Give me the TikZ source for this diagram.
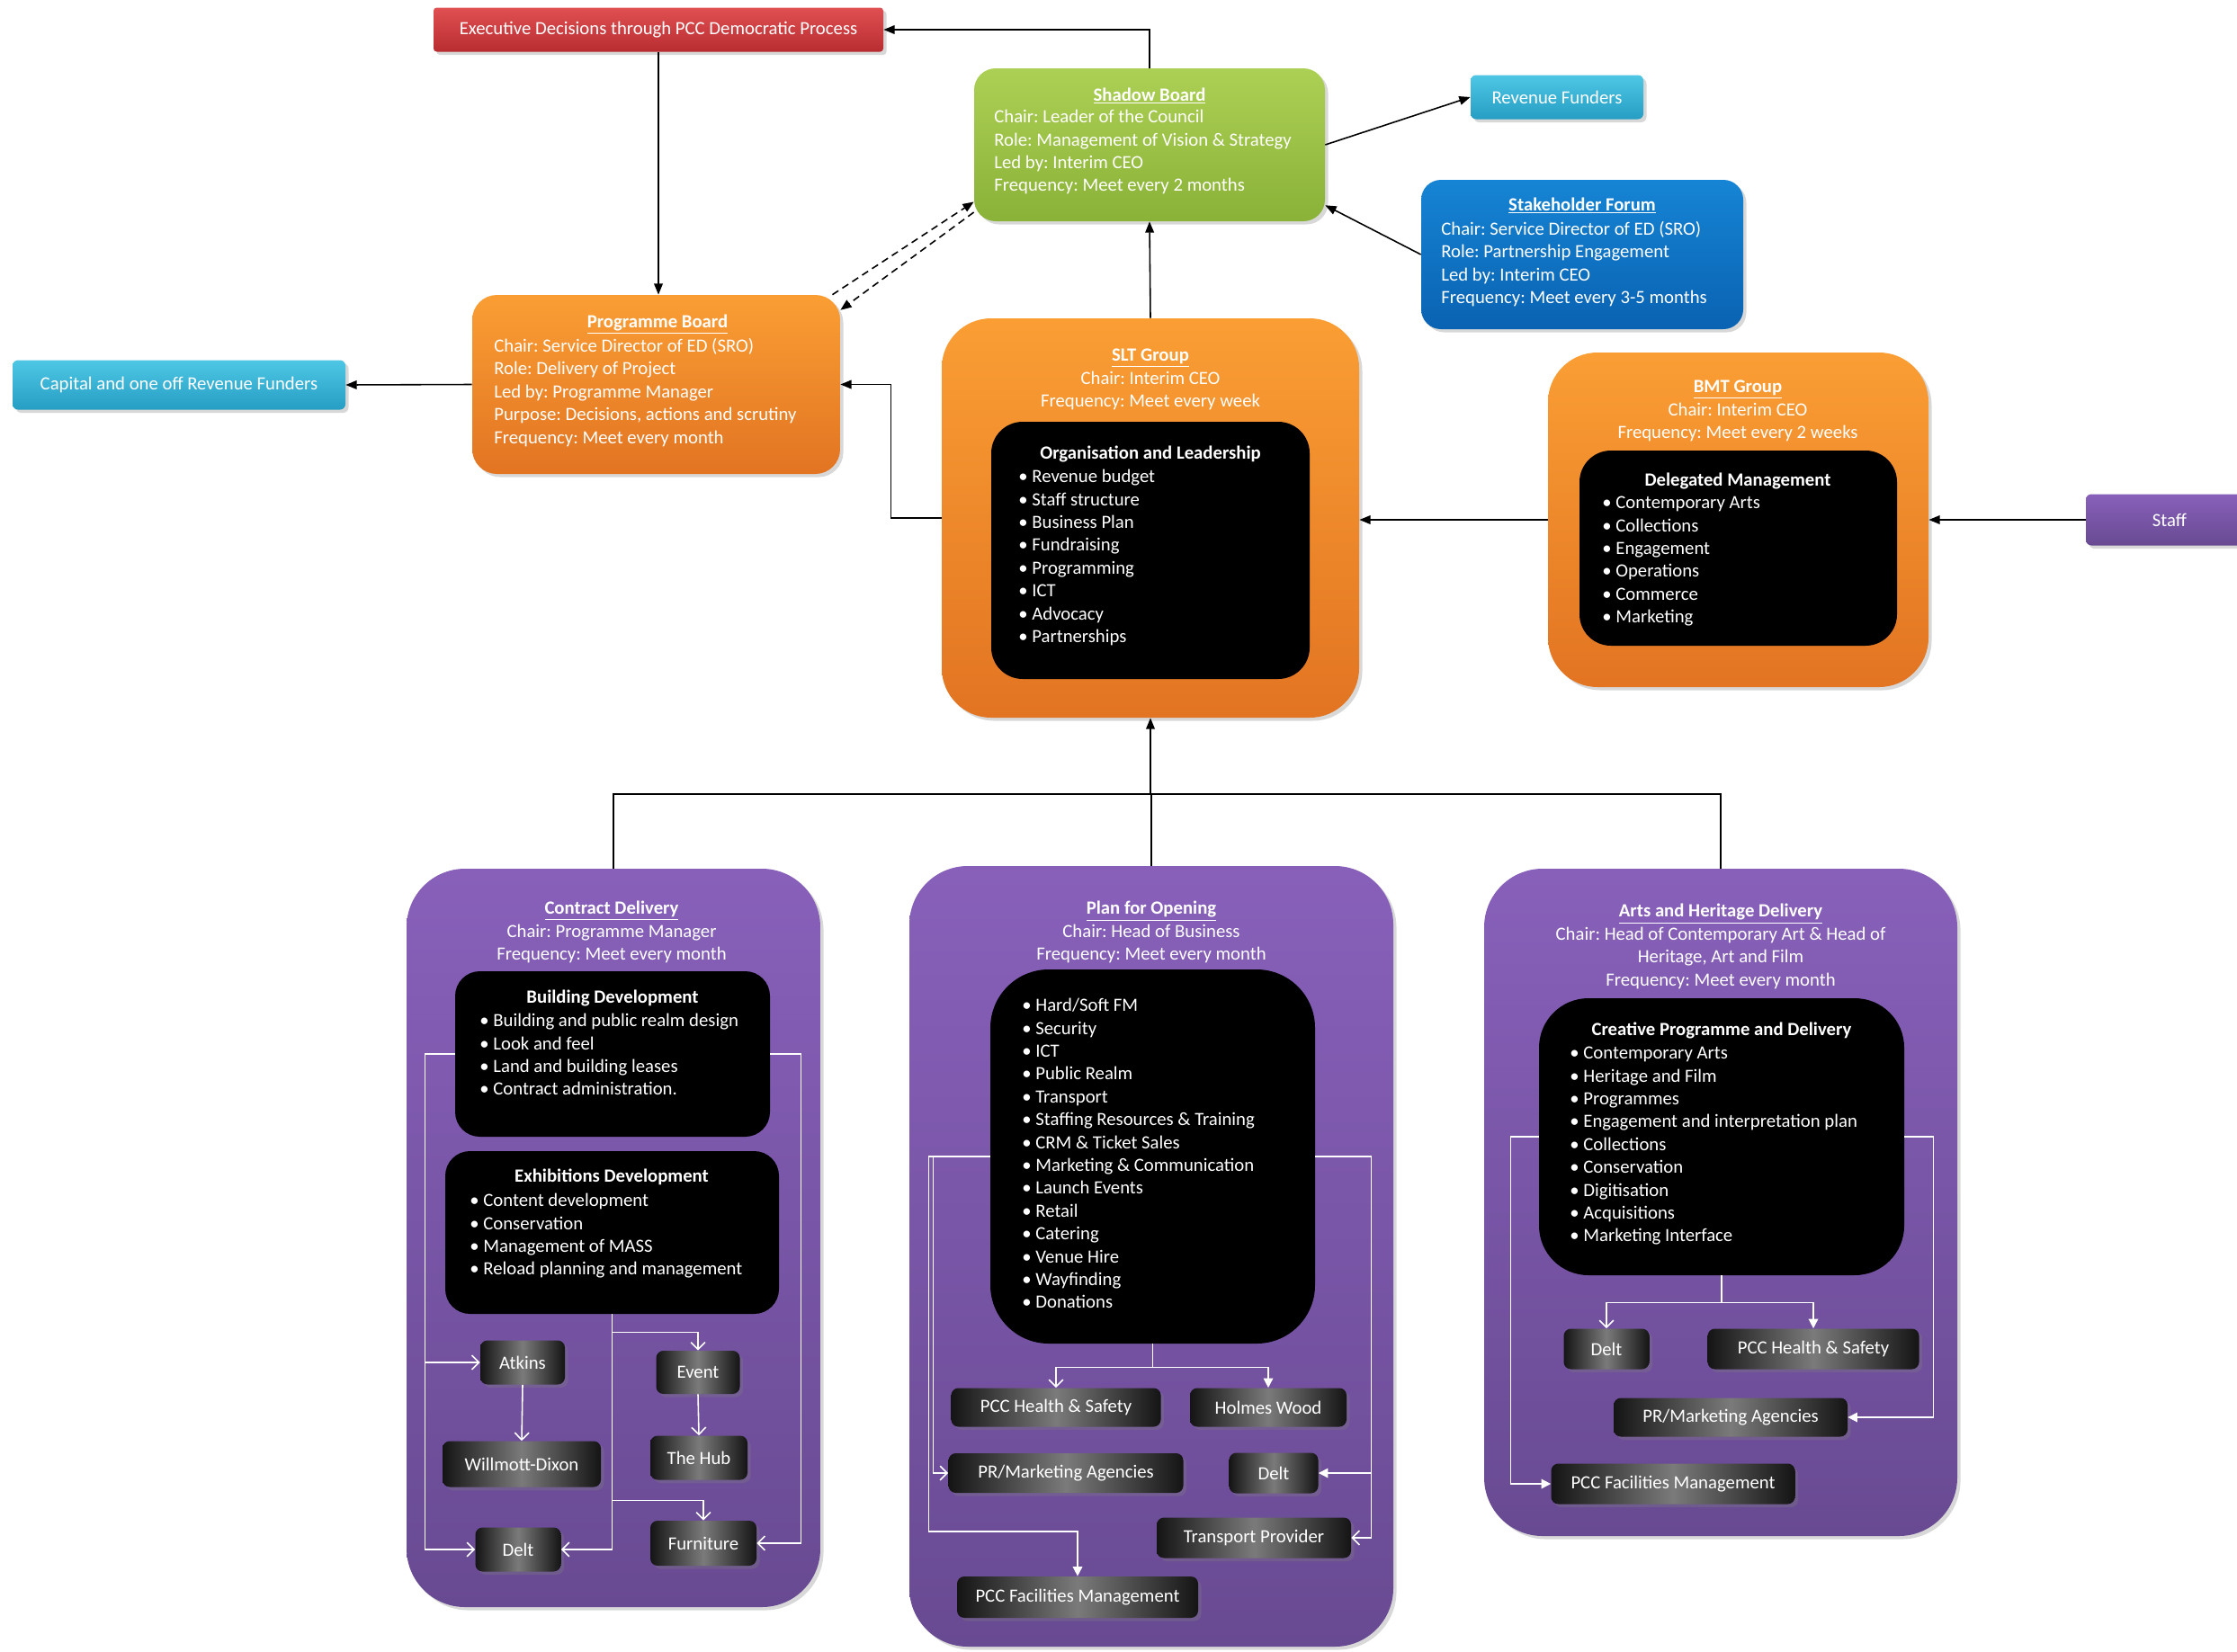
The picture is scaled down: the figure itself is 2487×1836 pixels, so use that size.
\documentclass[tikz,border=0pt]{standalone}
\usepackage{fontspec}
\setmainfont{Carlito}
\usepackage{tikz}
\usetikzlibrary{positioning,fit,calc,shadows,arrows.meta}
\frenchspacing

\definecolor{redtop}{RGB}{224,80,82}
\definecolor{redbot}{RGB}{184,44,48}
\definecolor{greentop}{RGB}{172,208,84}
\definecolor{greenbot}{RGB}{138,178,56}
\definecolor{cyantop}{RGB}{78,198,228}
\definecolor{cyanbot}{RGB}{38,158,196}
\definecolor{bluetop}{RGB}{22,132,212}
\definecolor{bluebot}{RGB}{10,98,178}
\definecolor{orngtop}{RGB}{250,158,52}
\definecolor{orngbot}{RGB}{226,116,34}
\definecolor{purptop}{RGB}{136,96,186}
\definecolor{purpbot}{RGB}{104,74,146}

\begin{document}
\begin{tikzpicture}[x=0.02cm, y=-0.02cm,
  txt/.style={text=white, inner sep=0pt, font=\fontsize{11.8}{14.45}\selectfont},
  boxsize/.style 2 args={minimum width=#1*0.02cm, minimum height=#2*0.02cm},
  panel/.style={inner sep=0pt, drop shadow={opacity=0.3, shadow xshift=2pt, shadow yshift=-2pt}},
  redbox/.style={panel, top color=redtop, bottom color=redbot, rounded corners=2pt},
  greenbox/.style={panel, top color=greentop, bottom color=greenbot, rounded corners=0.48cm},
  cyanbox/.style={panel, top color=cyantop, bottom color=cyanbot, rounded corners=0.12cm},
  bluebox/.style={panel, top color=bluetop, bottom color=bluebot, rounded corners=0.44cm},
  orangebox/.style={panel, top color=orngtop, bottom color=orngbot},
  purplebox/.style={panel, top color=purptop, bottom color=purpbot, rounded corners=1.3cm},
  staffbox/.style={panel, top color=purptop, bottom color=purpbot, rounded corners=0.12cm},
  innerbox/.style={fill=black, inner sep=0pt},
  agency/.style={panel, left color=black!92, right color=black!92, middle color=black!52,
    rounded corners=0.16cm, txt},
  link/.style={draw=black, line width=0.9pt, -{Triangle[length=7pt,width=5.5pt]}},
  wlink/.style={draw=white, line width=0.9pt},
  wopen/.style={-{Straight Barb[length=4.5pt,width=9pt]}},
  wshut/.style={-{Triangle[length=6pt,width=6pt]}}]

  \path[use as bounding box, fill=white] (0,0) rectangle (2487,1836);

  % top row
  \node[redbox, boxsize={500}{49}, txt] (exec) at (732,33) {Executive Decisions through PCC Democratic Process};
  \node[greenbox, fit={(1083,76) (1473,246)}] (shadow) {};
  \node[txt, anchor=base] (shadowtitle) at (1278,112) {\underline{\textbf{Shadow Board}}};
  \node[txt, anchor=north west, align=left] (shadowtext) at (1105,122)
    {Chair: Leader of the Council\\Role: Management of Vision \& Strategy\\Led by: Interim CEO\\Frequency: Meet every 2 months};
  \node[cyanbox, boxsize={192}{49}, txt] (revenue) at (1731,108) {Revenue Funders};
  \node[bluebox, fit={(1580,200) (1938,366)}] (forum) {};
  \node[txt, anchor=base] (forumtitle) at (1759,234) {\underline{\textbf{Stakeholder Forum}}};
  \node[txt, anchor=north west, align=left] (forumtext) at (1602,246)
    {Chair: Service Director of ED (SRO)\\Role: Partnership Engagement\\Led by: Interim CEO\\Frequency: Meet every 3-5 months};

  % boards and groups
  \node[orangebox, rounded corners=0.55cm, fit={(525,328) (934,527)}] (progboard) {};
  \node[txt, anchor=base] (progtitle) at (731,364) {\underline{\textbf{Programme Board}}};
  \node[txt, anchor=north west, align=left] (progtext) at (549,376)
    {Chair: Service Director of ED (SRO)\\Role: Delivery of Project\\Led by: Programme Manager\\Purpose: Decisions, actions and scrutiny\\Frequency: Meet every month};
  \node[cyanbox, boxsize={370}{55}, txt] (capital) at (199,428) {Capital and one off Revenue Funders};

  \node[orangebox, rounded corners=1.1cm, fit={(1047,354) (1511,798)}] (slt) {};
  \node[txt, anchor=north, align=center] (slttitle) at (1279,388)
    {\underline{\textbf{SLT Group}}\\Chair: Interim CEO\\Frequency: Meet every week};
  \node[innerbox, rounded corners=0.7cm, fit={(1102,469) (1456,755)}] (sltlist) {};
  \node[txt, anchor=base] (sltlisttitle) at (1279,510) {\textbf{Organisation and Leadership}};
  \node[txt, anchor=north west, align=left] (sltlisttext) at (1132,522)
    {\textbullet\ Revenue budget\\\textbullet\ Staff structure\\\textbullet\ Business Plan\\\textbullet\ Fundraising\\\textbullet\ Programming\\\textbullet\ ICT\\\textbullet\ Advocacy\\\textbullet\ Partnerships};

  \node[orangebox, rounded corners=1.1cm, fit={(1721,392) (2144,764)}] (bmt) {};
  \node[txt, anchor=north, align=center] (bmttitle) at (1932,423)
    {\underline{\textbf{BMT Group}}\\Chair: Interim CEO\\Frequency: Meet every 2 weeks};
  \node[innerbox, rounded corners=0.7cm, fit={(1756,501) (2109,718)}] (bmtlist) {};
  \node[txt, anchor=base] (bmtlisttitle) at (1932,540) {\textbf{Delegated Management}};
  \node[txt, anchor=north west, align=left] (bmtlisttext) at (1781,552)
    {\textbullet\ Contemporary Arts\\\textbullet\ Collections\\\textbullet\ Engagement\\\textbullet\ Operations\\\textbullet\ Commerce\\\textbullet\ Marketing};
  \node[staffbox, boxsize={186}{57}, txt] (staff) at (2412,578) {Staff};

  % delivery groups
  \node[purplebox, fit={(452,966) (912,1787)}] (contract) {};
  \node[txt, anchor=north, align=center] (contracttitle) at (680,1002)
    {\underline{\textbf{Contract Delivery}}\\Chair: Programme Manager\\Frequency: Meet every month};
  \node[innerbox, rounded corners=0.55cm, fit={(506,1080) (856,1264)}] (builddev) {};
  \node[txt, anchor=base] (builddevtitle) at (681,1115) {\textbf{Building Development}};
  \node[txt, anchor=north west, align=left] (builddevtext) at (533,1127)
    {\textbullet\ Building and public realm design\\\textbullet\ Look and feel\\\textbullet\ Land and building leases\\\textbullet\ Contract administration.};
  \node[innerbox, rounded corners=0.55cm, fit={(495,1280) (866,1461)}] (exhibdev) {};
  \node[txt, anchor=base] (exhibdevtitle) at (680,1314) {\textbf{Exhibitions Development}};
  \node[txt, anchor=north west, align=left] (exhibdevtext) at (522,1327)
    {\textbullet\ Content development\\\textbullet\ Conservation\\\textbullet\ Management of MASS\\\textbullet\ Reload planning and management};
  \node[agency, boxsize={94}{49}] (atkins) at (581,1515) {Atkins};
  \node[agency, boxsize={176}{51}] (willmott) at (580,1628) {Willmott-Dixon};
  \node[agency, boxsize={95}{49}] (deltcd) at (576,1723) {Delt};
  \node[agency, boxsize={93}{48}] (event) at (776,1526) {Event};
  \node[agency, boxsize={108}{49}] (thehub) at (777,1621) {The Hub};
  \node[agency, boxsize={118}{50}] (furniture) at (782,1716) {Furniture};

  \node[purplebox, fit={(1011,963) (1549,1831)}] (plan) {};
  \node[txt, anchor=north, align=center] (plantitle) at (1280,1002)
    {\underline{\textbf{Plan for Opening}}\\Chair: Head of Business\\Frequency: Meet every month};
  \node[innerbox, rounded corners=1.3cm, fit={(1101,1078) (1462,1494)}] (planlist) {};
  \node[txt, anchor=north west, align=left] (planlisttext) at (1136,1110)
    {\textbullet\ Hard/Soft FM\\\textbullet\ Security\\\textbullet\ ICT\\\textbullet\ Public Realm\\\textbullet\ Transport\\\textbullet\ Staffing Resources \& Training\\\textbullet\ CRM \& Ticket Sales\\\textbullet\ Marketing \& Communication\\\textbullet\ Launch Events\\\textbullet\ Retail\\\textbullet\ Catering\\\textbullet\ Venue Hire\\\textbullet\ Wayfinding\\\textbullet\ Donations};
  \node[agency, boxsize={233}{43}] (safetypo) at (1174,1565) {PCC Health \& Safety};
  \node[agency, boxsize={174}{43}] (holmes) at (1410,1565) {Holmes Wood};
  \node[agency, boxsize={261}{44}] (prpo) at (1185,1638) {PR/Marketing Agencies};
  \node[agency, boxsize={99}{45}] (deltpo) at (1416,1638) {Delt};
  \node[agency, boxsize={216}{45}] (transport) at (1394,1710) {Transport Provider};
  \node[agency, boxsize={268}{46}] (facpo) at (1198,1776) {PCC Facilities Management};

  \node[purplebox, fit={(1650,966) (2176,1708)}] (arts) {};
  \node[txt, anchor=north, align=center] (artstitle) at (1913,1005)
    {\underline{\textbf{Arts and Heritage Delivery}}\\Chair: Head of Contemporary Art \& Head of\\Heritage, Art and Film\\Frequency: Meet every month};
  \node[innerbox, rounded corners=1.1cm, fit={(1711,1110) (2117,1418)}] (artslist) {};
  \node[txt, anchor=base] (artslisttitle) at (1914,1151) {\textbf{Creative Programme and Delivery}};
  \node[txt, anchor=north west, align=left] (artslisttext) at (1745,1164)
    {\textbullet\ Contemporary Arts\\\textbullet\ Heritage and Film\\\textbullet\ Programmes\\\textbullet\ Engagement and interpretation plan\\\textbullet\ Collections\\\textbullet\ Conservation\\\textbullet\ Digitisation\\\textbullet\ Acquisitions\\\textbullet\ Marketing Interface};
  \node[agency, boxsize={95}{45}] (deltah) at (1786,1500) {Delt};
  \node[agency, boxsize={235}{45}] (safetyah) at (2016,1500) {PCC Health \& Safety};
  \node[agency, boxsize={260}{43}] (prah) at (1924,1576) {PR/Marketing Agencies};
  \node[agency, boxsize={271}{45}] (facah) at (1860,1650) {PCC Facilities Management};

  % black connectors
  \draw[link] (shadow.north) |- (exec.east);
  \draw[link] (exec.south) -- (exec.south |- progboard.north);
  \draw[link, dash pattern=on 4.5pt off 3pt] (progboard.27.6) -- (shadow.198);
  \draw[link, dash pattern=on 4.5pt off 3pt] (shadow.201.5) -- (progboard.22);
  \draw[link] (shadow.east) -- (revenue.west);
  \draw[link] (forum.west) -- (shadow.-19.5);
  \draw[link] (slt.north) -- (shadow.south);
  \draw[link] (slt.west) -- ++(-56,0) |- (progboard.east);
  \draw[link] (progboard.west) -- (capital.east);
  \draw[link] (bmt.west) -- (bmt.west -| slt.east);
  \draw[link] (staff.west) -- (bmt.east);
  \coordinate (joint) at (1279,883);
  \draw[line width=0.9pt] (contract.north) |- (joint) -| (arts.north);
  \draw[line width=0.9pt] (plan.north) -- (plan.north |- joint);
  \draw[link] (joint) -- (slt.south);

  % white connectors
  \draw[wlink, wopen] (builddev.west) -- ++(-33,0) coordinate (cdleft) |- (deltcd.west);
  \draw[wlink, wopen] (cdleft) |- (atkins.west);
  \draw[wlink, wopen] (builddev.east) -- ++(34,0) |- (furniture.east);
  \draw[wlink, wopen] (exhibdev.south) -- ++(0,20) coordinate (cdmid1) -- ++(0,187) coordinate (cdmid2) |- (deltcd.east);
  \draw[wlink, wopen] (cdmid1) -| (event.north);
  \draw[wlink, wopen] (cdmid2) -| (furniture.north);
  \draw[wlink, wopen] (atkins.south) -- (willmott.north);
  \draw[wlink, wopen] (event.south) -- (thehub.north);

  \draw[wlink] (planlist.south) -- ++(0,26) coordinate (pomid);
  \draw[wlink, wopen] (pomid) -| (safetypo.north);
  \draw[wlink, wshut] (pomid) -| (holmes.north);
  \draw[wlink, wopen] (planlist.west) -- ++(-63,0) |- (prpo.west);
  \draw[wlink, wshut] (planlist.west) -- ++(-68,0) -- ++(0,417) -| (facpo.north);
  \draw[wlink, wshut] (planlist.east) -- ++(62,0) coordinate (poright) |- (deltpo.east);
  \draw[wlink, wopen] (poright) |- (transport.east);

  \draw[wlink] (artslist.south) -- ++(0,30) coordinate (ahmid);
  \draw[wlink, wopen] (ahmid) -| (deltah.north);
  \draw[wlink, wshut] (ahmid) -| (safetyah.north);
  \draw[wlink, wshut] (artslist.west) -- ++(-31,0) |- (facah.west);
  \draw[wlink, wshut] (artslist.east) -- ++(32,0) |- (prah.east);
\end{tikzpicture}
\end{document}
